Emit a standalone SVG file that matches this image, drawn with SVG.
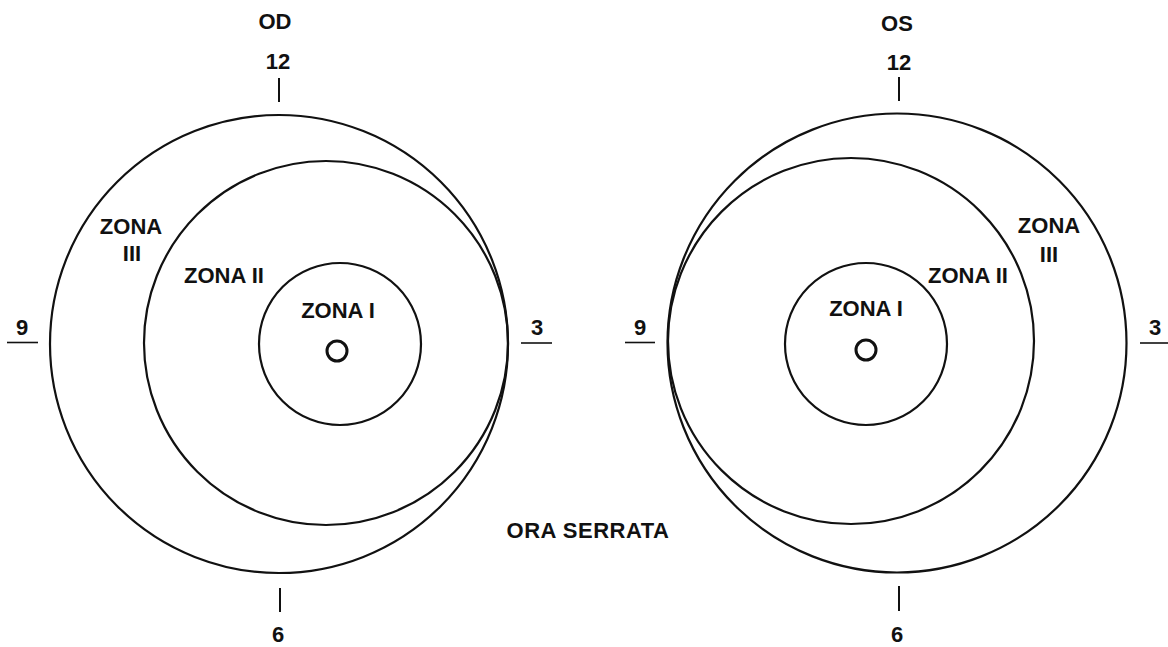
<svg xmlns="http://www.w3.org/2000/svg" width="1168" height="647" viewBox="0 0 1168 647">
<style>
text{font-family:"Liberation Sans",Arial,sans-serif;font-weight:bold;font-size:22px;fill:#111;text-anchor:middle}
.c{fill:none;stroke:#111;stroke-width:2.2}
.t{stroke:#111;stroke-width:2}
.u{stroke:#111;stroke-width:1.6}
.dot{fill:none;stroke:#111;stroke-width:3}
</style>
<rect width="1168" height="647" fill="#fff"/>
<g id="OD">
  <text x="275" y="29">OD</text>
  <g id="od-clock">
    <text x="278" y="69">12</text>
    <line class="t" x1="279" y1="78" x2="279" y2="102"/>
    <text x="22" y="335">9</text>
    <line class="u" x1="7" y1="342.5" x2="38" y2="342.5"/>
    <text x="537" y="335">3</text>
    <line class="u" x1="521" y1="343" x2="552" y2="343"/>
    <line class="t" x1="280" y1="588" x2="280" y2="612"/>
    <text x="278" y="642">6</text>
  </g>
  <g id="od-zone3"><circle class="c" cx="279" cy="344" r="229"/><text x="131" y="234">ZONA</text><text x="132" y="261">III</text></g>
  <g id="od-zone2"><circle class="c" cx="326" cy="343" r="182"/><text x="224" y="283">ZONA II</text></g>
  <g id="od-zone1"><circle class="c" cx="340" cy="344" r="81"/><text x="338" y="318">ZONA I</text></g>
  <g id="od-disc"><circle class="dot" cx="337" cy="351" r="10"/></g>
</g>
<g id="OS">
  <text x="897" y="31">OS</text>
  <g id="os-clock">
    <text x="899" y="70">12</text>
    <line class="t" x1="899" y1="77" x2="899" y2="101"/>
    <text x="640" y="335">9</text>
    <line class="u" x1="625" y1="342.5" x2="655" y2="342.5"/>
    <text x="1155" y="335">3</text>
    <line class="u" x1="1140" y1="343" x2="1168" y2="343"/>
    <line class="t" x1="899" y1="586" x2="899" y2="611"/>
    <text x="897" y="642">6</text>
  </g>
  <g id="os-zone3"><circle class="c" cx="897" cy="343" r="229.5"/><text x="1049" y="233">ZONA</text><text x="1049" y="262">III</text></g>
  <g id="os-zone2"><circle class="c" cx="851" cy="341" r="183"/><text x="968" y="283">ZONA II</text></g>
  <g id="os-zone1"><circle class="c" cx="866" cy="344" r="81"/><text x="866" y="316">ZONA I</text></g>
  <g id="os-disc"><circle class="dot" cx="866" cy="350" r="10"/></g>
</g>
<g id="ora-serrata"><text x="588" y="538" letter-spacing="0.5">ORA SERRATA</text></g>
<g id="connectors"/>
</svg>
